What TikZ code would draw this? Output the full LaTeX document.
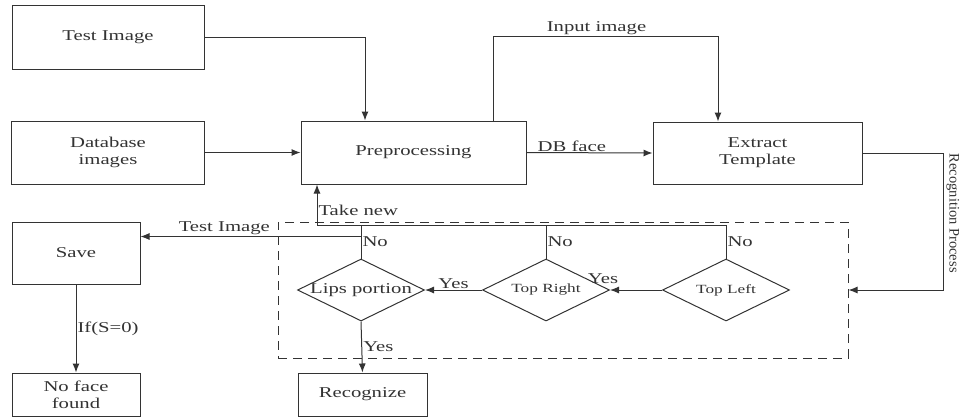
\documentclass[tikz,border=0pt]{standalone}
\usepackage{fontspec}
\setmainfont{Liberation Serif}[FakeStretch=1.38]
\newfontfamily\plainserif{Liberation Serif}
\usetikzlibrary{shapes.geometric,arrows.meta}

\begin{document}
\begin{tikzpicture}[
  x=1pt, y=-1pt,
  font=\fontsize{15}{17}\selectfont,
  black!80, line width=1pt,
  box/.style={rectangle, draw, align=center},
  dbox/.style={diamond, draw, inner sep=0pt, minimum width=127pt, minimum height=62pt},
  lbl/.style={inner sep=1pt},
  arrow/.style={-{Latex[length=9pt,width=7pt]}}
]
\useasboundingbox (0,0) rectangle (960,418);

\node[box, minimum width=192pt, minimum height=64pt] (test) at (108,37) {Test Image};
\node[box, minimum width=193pt, minimum height=63pt] (db) at (108,152.5) {Database\\images};
\node[box, minimum width=225pt, minimum height=63pt] (pre) at (413.5,152.5) {Preprocessing};
\node[box, minimum width=209pt, minimum height=62pt] (ext) at (757.5,153) {Extract\\Template};
\node[box, minimum width=128pt, minimum height=62pt] (save) at (76,253) {Save};
\node[box, minimum width=128pt, minimum height=43pt] (noface) at (76,394.5) {No face\\found};
\node[box, minimum width=129pt, minimum height=43pt] (recog) at (362.5,394.5) {Recognize};
\node[draw, dash pattern=on 9pt off 6pt, minimum width=570pt, minimum height=136pt] (proc) at (563,290) {};

\node[dbox, label={[lbl]center:Lips portion}] (lips) at (361,290) {};
\node[dbox, label={[lbl, font=\fontsize{12.5}{14}\selectfont]center:Top Right}] (tr) at (546,290) {};
\node[dbox, label={[lbl, font=\fontsize{12.5}{14}\selectfont]center:Top Left}] (tl) at (726,290) {};

\draw[arrow] (test.east) -| ([xshift=-48.5pt]pre.north);
\draw[arrow] (db.east) -- (pre.west);
\draw[arrow] ([xshift=79.5pt]pre.north) -- ++(0,-84) -| node[lbl, above, pos=0.23]{Input image} ([xshift=-39.5pt]ext.north);
\draw[arrow] (pre.east) -- node[lbl, above, pos=0.36]{DB face} (ext.west);
\draw[arrow] (ext.east) -- ++(80.5,0) |- node[lbl, pos=0.22, anchor=south, rotate=-90, inner sep=3pt, font=\plainserif\fontsize{14.5}{17}\selectfont]{Recognition Process} (proc.east);

\draw[arrow] (tl.north) -- node[lbl, right]{No} ++(0,-33) -| node[lbl, pos=0.69, anchor=west]{Take new} ([xshift=-96.5pt]pre.south);
\draw (tr.north) -- node[lbl, right]{No} ++(0,-33);
\draw (lips.north) -- node[lbl, right]{No} ++(0,-33);
\coordinate (tj) at ([yshift=22pt]lips.north);
\draw[arrow] (tj) -- node[lbl, above, pos=0.62]{Test Image} (tj -| save.east);

\draw[arrow] (tl.west) -- node[lbl, at end, above=5pt, xshift=-7pt]{Yes} (tr.east);
\draw[arrow] (tr.west) -- node[lbl, above]{Yes} (lips.east);
\draw[arrow] (lips.south) -- node[lbl, right]{Yes} (recog.north);
\draw[arrow] (save.south) -- node[lbl, right]{If(S=0)} (noface.north);
\end{tikzpicture}
\end{document}
